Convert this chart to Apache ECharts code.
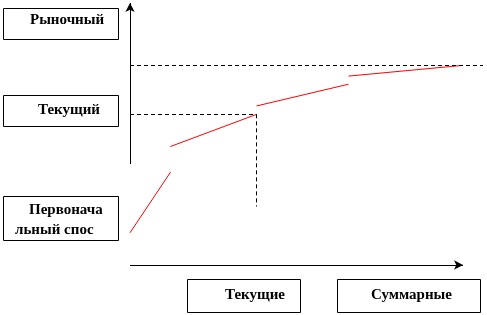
<!DOCTYPE html>
<html>
<head>
<meta charset="utf-8">
<script src="https://cdn.jsdelivr.net/npm/echarts@6/dist/echarts.min.js"></script>
<style>html,body{margin:0;padding:0;background:#fff;}#c{width:487px;height:315px;}</style>
</head>
<body>
<div id="c"></div>
<script>
// Red curve segments (x, y) in chart units; null separates the pieces
const curveX = [0, 12.2, null, 12.1, 38.0, null, 38.0, 65.6, null, 65.6, 100];
const curveY = [12.3, 35.5, null, 45.2, 57.5, null, 60.7, 69.0, null, 72.1, 76.2];
// Dashed guide levels
const marketLevel = 76.2;      // "Рыночный"
const currentLevel = 57.5;     // "Текущий"
const currentX = 38.0;         // "Текущие"
const guideEndX = 106;
const guideBottomY = 22.3;
// Axis line extents
const yAxisFrom = 38.5, yAxisTo = 100;
const xAxisFrom = 0, xAxisTo = 100;
// Labels
const yLabels = ['Рыночный', 'Текущий', 'Первонача', 'льный спос'];
const xLabels = ['Текущие', 'Суммарные'];

const curveData = curveX.map((x, i) => (x === null ? [null, null] : [x, curveY[i]]));
const dash = { color: '#000', width: 1, type: [4, 3] };

const chart = echarts.init(document.getElementById('c'), null, { renderer: 'canvas' });
function box(x, y, w, h) {
  return { type: 'rect', shape: { x: x + 0.5, y: y + 0.5, width: w, height: h }, style: { fill: '#fff', stroke: '#000', lineWidth: 1 } };
}
function txt(s, x, y) {
  return { type: 'text', x: x, y: y, style: { text: s, verticalAlign: 'middle', align: 'left', fill: '#000', font: 'bold 15px "Liberation Serif", "Times New Roman", serif' } };
}
chart.setOption({
  animation: false,
  grid: { left: 130, right: 3, top: 3, bottom: 50 },
  xAxis: { type: 'value', min: 0, max: 106.3, axisLine: { show: false }, axisTick: { show: false }, axisLabel: { show: false }, splitLine: { show: false } },
  yAxis: { type: 'value', min: 0, max: 100, axisLine: { show: false }, axisTick: { show: false }, axisLabel: { show: false }, splitLine: { show: false } },
  series: [
    {
      type: 'line', data: curveData, connectNulls: false, showSymbol: false, symbol: 'none', clip: false,
      lineStyle: { color: '#ff0000', width: 1 },
      markLine: {
        silent: true, symbol: ['none', 'arrow'], symbolSize: [7, 9], label: { show: false },
        lineStyle: { color: '#000', width: 1, type: 'solid' },
        data: [
          [{ coord: [0, yAxisFrom] }, { coord: [0, yAxisTo] }],
          [{ coord: [xAxisFrom, 0] }, { coord: [xAxisTo, 0] }]
        ]
      }
    },
    {
      type: 'line', data: [], symbol: 'none',
      markLine: {
        silent: true, symbol: ['none', 'none'], label: { show: false }, lineStyle: dash,
        data: [
          [{ coord: [0, marketLevel] }, { coord: [guideEndX, marketLevel] }],
          [{ coord: [0, currentLevel] }, { coord: [currentX, currentLevel] }],
          [{ coord: [currentX, currentLevel] }, { coord: [currentX, guideBottomY] }]
        ]
      }
    }
  ],
  graphic: [
    box(3, 8, 115, 31), txt(yLabels[0], 30, 20),
    box(3, 95, 115, 31), txt(yLabels[1], 38, 110),
    box(3, 196, 115, 44), txt(yLabels[2], 29, 210), txt(yLabels[3], 15, 230),
    box(187, 279, 113, 33), txt(xLabels[0], 225, 295),
    box(337, 279, 143, 33), txt(xLabels[1], 371, 295)
  ]
});
</script>
</body>
</html>
